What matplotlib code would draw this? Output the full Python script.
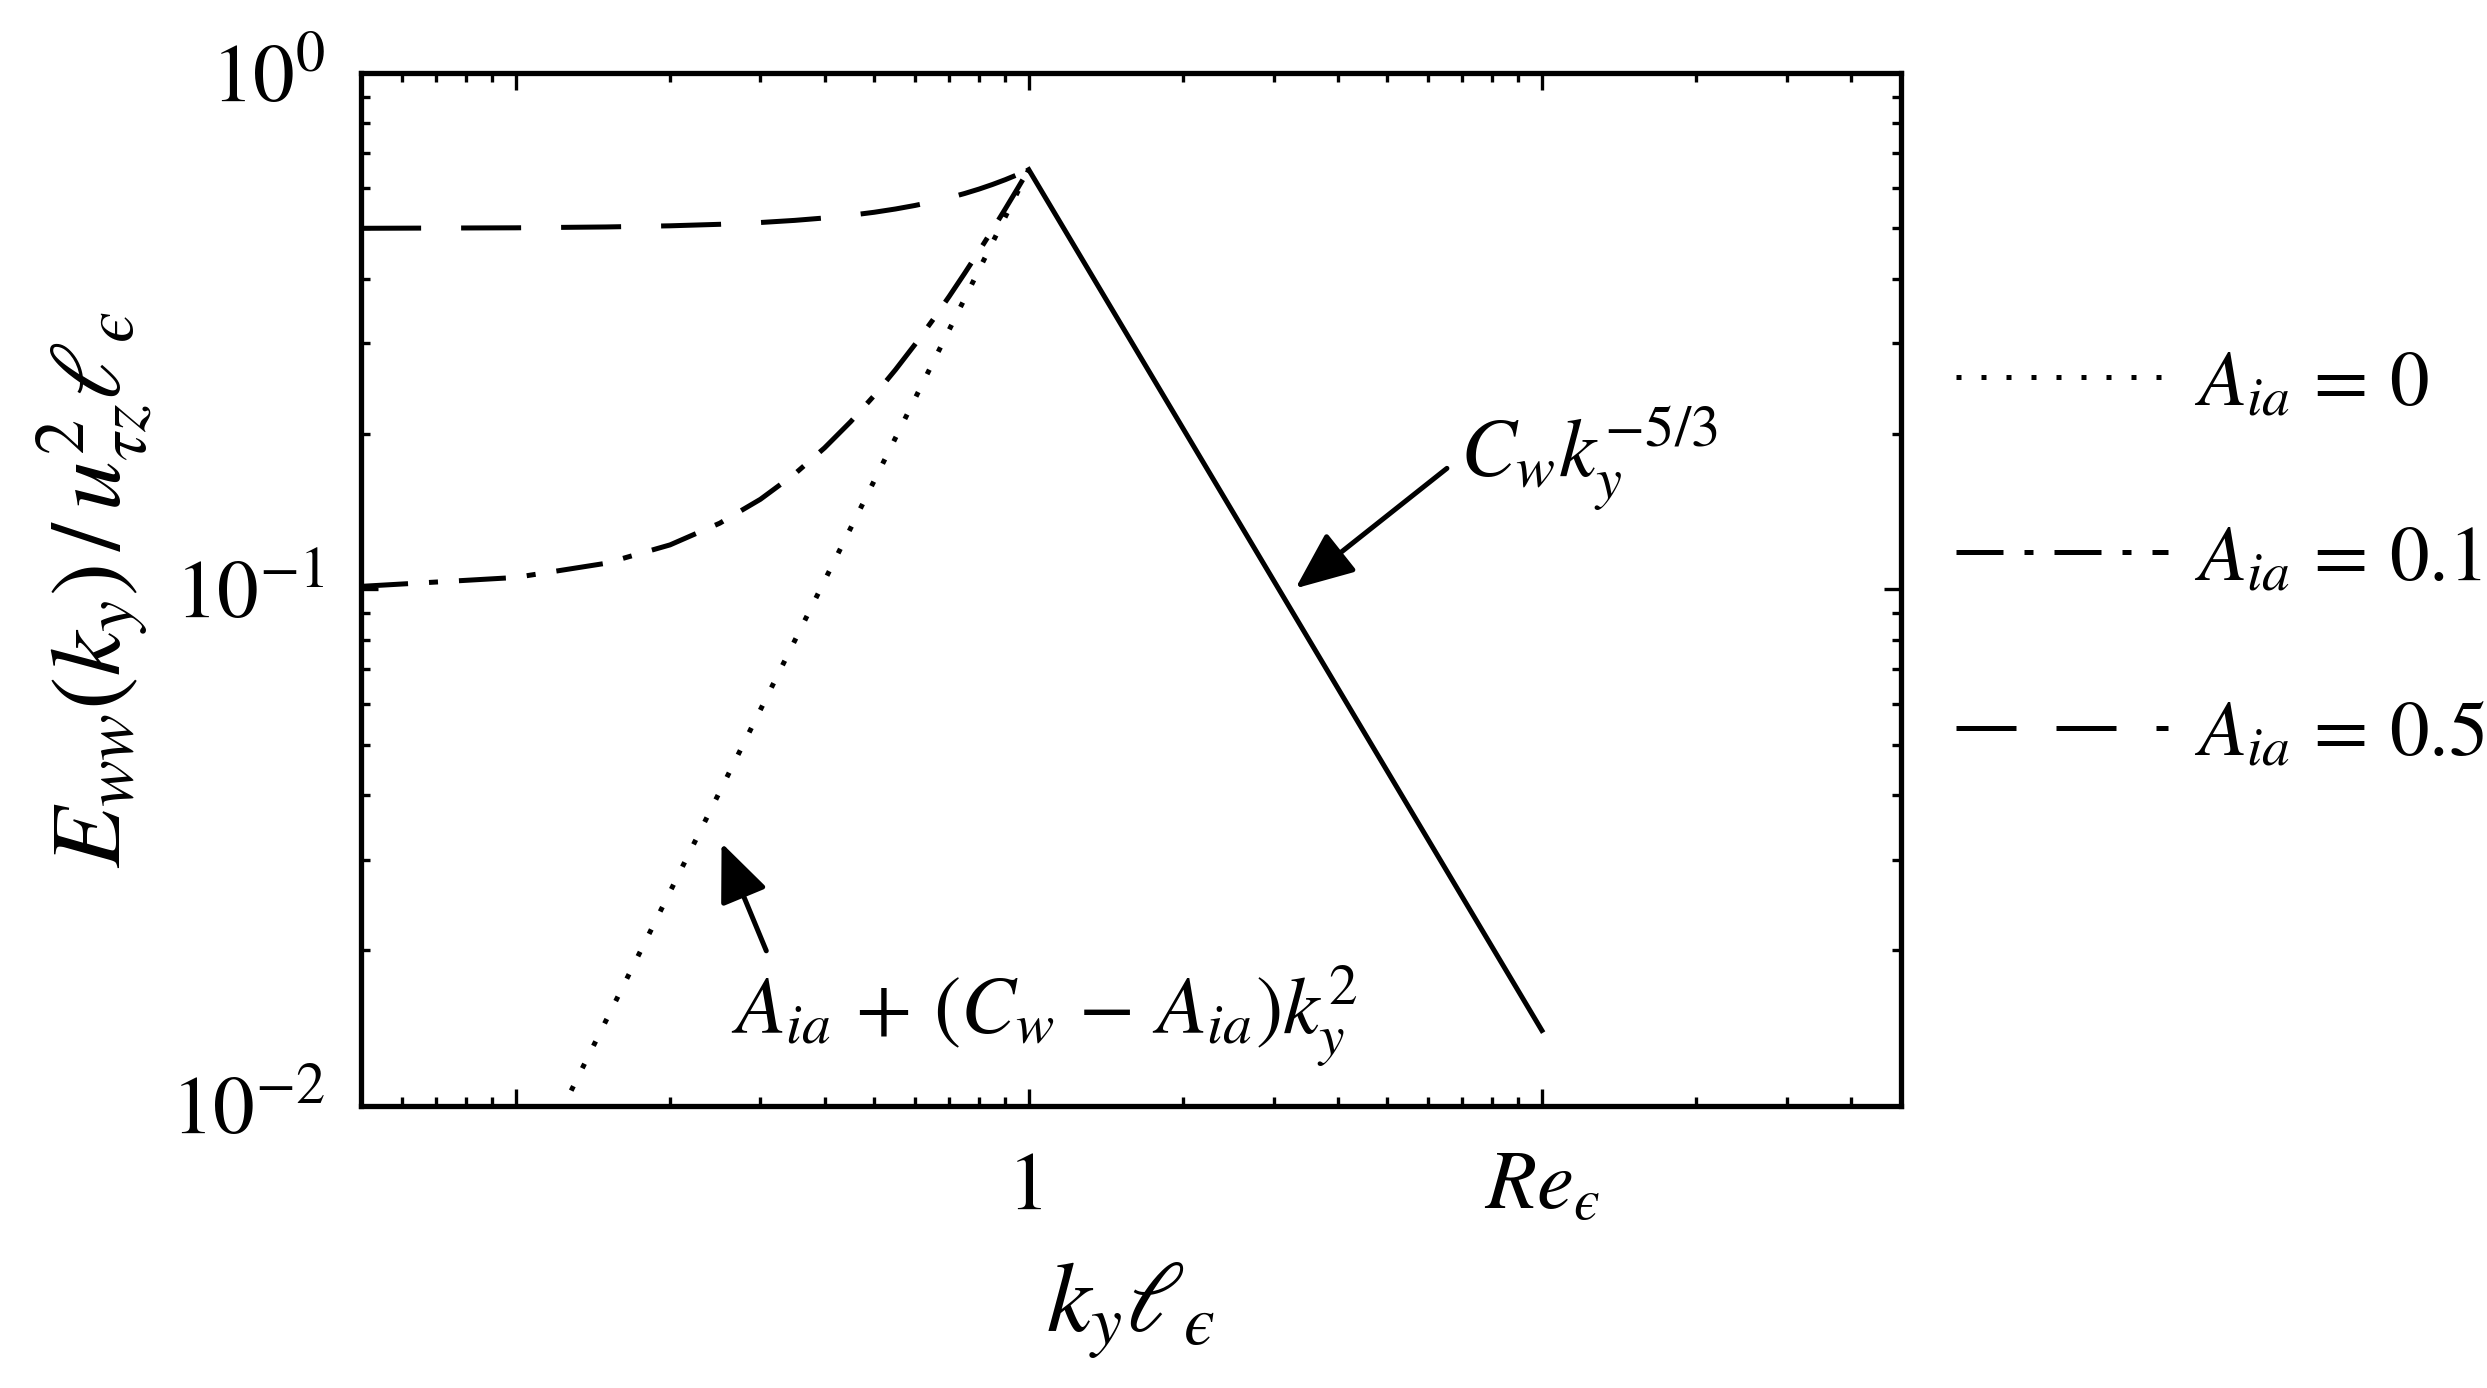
import numpy as np
import matplotlib.pyplot as plt
from matplotlib.ticker import FixedLocator, FixedFormatter, LogLocator, NullFormatter

plt.rcParams['font.family'] = 'STIXGeneral'
plt.rcParams['mathtext.fontset'] = 'stix'

# values
C_w = 0.65      # peak at k_y l = 1
Re_eps = 10.0   # end of the -5/3 range

k_low = [0.05, 0.10, 0.15, 0.20, 0.25, 0.30, 0.35, 0.40, 0.45, 0.50,
         0.55, 0.60, 0.65, 0.70, 0.75, 0.80, 0.85, 0.90, 0.95, 1.00]
E_a01 = [0.1014, 0.1055, 0.1124, 0.1220, 0.1344, 0.1495, 0.1674, 0.1880, 0.2114, 0.2375,
         0.2664, 0.2980, 0.3324, 0.3695, 0.4094, 0.4520, 0.4974, 0.5455, 0.5964, 0.6500]
E_a05 = [0.5004, 0.5015, 0.5034, 0.5060, 0.5094, 0.5135, 0.5184, 0.5240, 0.5304, 0.5375,
         0.5454, 0.5540, 0.5634, 0.5735, 0.5844, 0.5960, 0.6084, 0.6215, 0.6354, 0.6500]
k_a0 = [0.10, 1.00]
E_a0 = [0.0065, 0.6500]
k_high = [1.0, Re_eps]
E_high = [C_w, 0.0140]

legend_labels = [r'$A_{ia}\,=\,0$', r'$A_{ia}\,=\,0.1$', r'$A_{ia}\,=\,0.5$']
xtick_pos = [0.1, 1.0, Re_eps]
xtick_lab = ['', '1', '$Re_\u03f5$']

fig = plt.figure(figsize=(12.435, 6.94), dpi=200)
ax = fig.add_axes([0.1452, 0.2032, 0.619, 0.7442])

lw = 1.8
l0, = ax.loglog(k_a0, E_a0, color='k', lw=lw, ls=(0, (1, 4)))
l1, = ax.loglog(k_low, E_a01, color='k', lw=lw, ls=(0, (9.4, 4.2, 1.8, 4.2)))
l2, = ax.loglog(k_low, E_a05, color='k', lw=lw, ls=(0, (12, 8)))
ax.loglog(k_high, E_high, color='k', lw=lw)

ax.set_xlim(0.05, 50)
ax.set_ylim(0.01, 1)

ax.xaxis.set_major_locator(FixedLocator(xtick_pos))
ax.xaxis.set_major_formatter(FixedFormatter(xtick_lab))
ax.xaxis.set_minor_locator(LogLocator(base=10, subs=np.arange(2, 10)))
ax.xaxis.set_minor_formatter(NullFormatter())
ax.yaxis.set_minor_locator(LogLocator(base=10, subs=np.arange(2, 10)))
ax.yaxis.set_minor_formatter(NullFormatter())

ax.tick_params(which='both', direction='in', top=True, right=True, width=1.2, labelsize=30)
ax.tick_params(which='major', length=6)
ax.tick_params(which='minor', length=3.2)
ax.tick_params(axis='x', pad=17)
ax.tick_params(axis='y', pad=13)
for s in ax.spines.values():
    s.set_linewidth(1.9)

ax.set_xlabel('$k_y\\ell_\u03f5$', fontsize=36)
ax.set_ylabel('$E_{ww}(k_y)\\,/\\,u_{\\tau z}^2\\ell_\u03f5$', fontsize=36)
ax.xaxis.set_label_coords(0.5, -0.15)
ax.yaxis.set_label_coords(-0.134, 0.5)

arrow = dict(arrowstyle='-|>,head_length=0.9,head_width=0.38', color='k', lw=lw,
             shrinkA=0, shrinkB=0, mutation_scale=20)
ax.annotate('', xy=(3.31, 0.1005), xytext=(6.53, 0.1716), arrowprops=arrow)
ax.annotate('', xy=(0.252, 0.0323), xytext=(0.308, 0.01997), arrowprops=arrow)
ax.text(6.93, 0.165, r'$C_w k_y^{-5/3}$', fontsize=30, va='baseline')
ax.text(0.263, 0.01385, r'$A_{ia}\,+\,(C_w\,-\,A_{ia})k_y^2$', fontsize=29.5, va='baseline')

fig.legend([l0, l1, l2], legend_labels, loc='center left', bbox_to_anchor=(0.7865, 0.596),
           frameon=False, fontsize=28.5, handlelength=2.68, handletextpad=0.32,
           labelspacing=1.3, borderpad=0, borderaxespad=0)

fig.savefig('out.png', dpi=200)
